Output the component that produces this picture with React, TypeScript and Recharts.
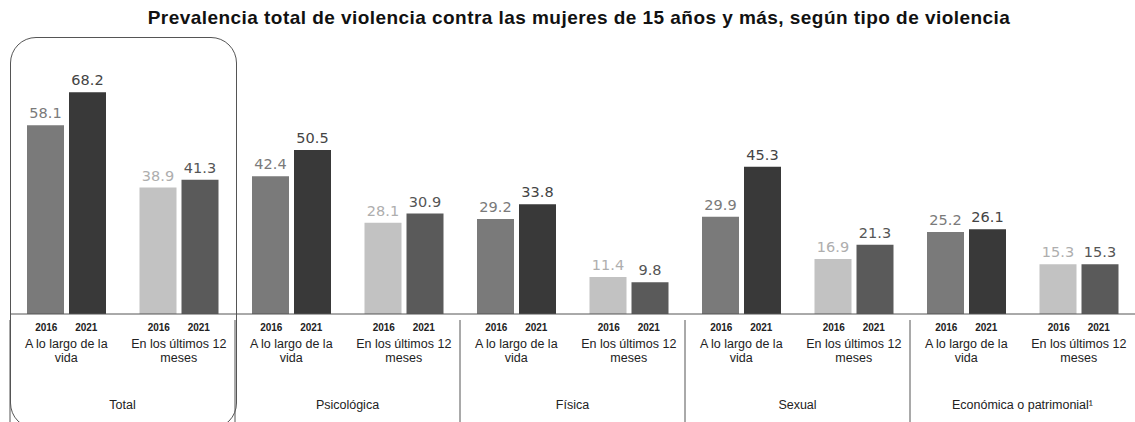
import { BarChart, Bar, XAxis, YAxis, Cell, LabelList } from "recharts";

const tipos = ["Total", "Psicológica", "Física", "Sexual", "Económica o patrimonial¹"];
const periodos = [
  ["A lo largo de la", "vida"],
  ["En los últimos 12", "meses"],
];
const v2016 = [58.1, 38.9, 42.4, 28.1, 29.2, 11.4, 29.9, 16.9, 25.2, 15.3];
const v2021 = [68.2, 41.3, 50.5, 30.9, 33.8, 9.8, 45.3, 21.3, 26.1, 15.3];

const data = v2016.map((v, i) => ({
  id: i,
  tipo: tipos[Math.floor(i / 2)],
  periodo: i % 2,
  y2016: v,
  y2021: v2021[i],
}));

const W = 1135;
const H = 422;
const LEFT = 10;
const BAND = (W - LEFT) / data.length;

const fill2016 = ["#7a7a7a", "#c2c2c2"];
const fill2021 = ["#393939", "#5a5a5a"];
const txt2016 = ["#7a7a7a", "#aeaeae"];
const txt2021 = ["#444", "#555"];

const font = "'Liberation Sans', Arial, sans-serif";
const numFont = "'DejaVu Sans', sans-serif";

const Tick = ({ x, y, index }: any) => {
  const d = data[index];
  const p = periodos[d.periodo];
  return (
    <g fontFamily={font} fill="#222">
      <text x={x - 20} y={y + 9} fontSize={10} fontWeight="bold" textAnchor="middle">2016</text>
      <text x={x + 20} y={y + 9} fontSize={10} fontWeight="bold" textAnchor="middle">2021</text>
      <text x={x} y={y + 26} fontSize={12.5} textAnchor="middle">{p[0]}</text>
      <text x={x} y={y + 40} fontSize={12.5} textAnchor="middle">{p[1]}</text>
      {d.periodo === 0 && (
        <>
          <line x1={x - BAND / 2} x2={x - BAND / 2} y1={y - 2} y2={y + 104} stroke="#555" />
          <text x={x + BAND / 2} y={y + 87} fontSize={12.5} textAnchor="middle">{d.tipo}</text>
        </>
      )}
    </g>
  );
};

const valueLabel = (colors: string[]) => (props: any) => {
  const { x, y, width, value, index } = props;
  return (
    <text
      x={x + width / 2}
      y={y - 7}
      textAnchor="middle"
      fontSize={14.5}
      fontFamily={numFont}
      fill={colors[data[index].periodo]}
    >
      {value}
    </text>
  );
};

export default function App() {
  return (
    <div style={{ position: "absolute", left: 0, top: 0, width: W, height: H, background: "#fff", overflow: "hidden" }}>
      <div
        style={{
          position: "absolute",
          left: 0,
          top: 7,
          width: 1158,
          textAlign: "center",
          fontFamily: font,
          fontWeight: "bold",
          fontSize: 19,
          letterSpacing: 0.45,
          color: "#111",
        }}
      >
        Prevalencia total de violencia contra las mujeres de 15 años y más, según tipo de violencia
      </div>
      <div
        style={{
          position: "absolute",
          left: 10,
          top: 37,
          width: 227,
          height: 392,
          border: "1.5px solid #555",
          borderRadius: 26,
          boxSizing: "border-box",
        }}
      />
      <div style={{ position: "absolute", left: 0, top: 0 }}>
        <BarChart
          width={W}
          height={H}
          data={data}
          margin={{ top: 54, right: 0, bottom: 0, left: LEFT }}
          barCategoryGap={17}
          barGap={5}
        >
          <XAxis
            dataKey="id"
            interval={0}
            height={108}
            tickLine={false}
            axisLine={{ stroke: "#555" }}
            tick={<Tick />}
          />
          <YAxis hide domain={[0, 80]} width={0} />
          <Bar dataKey="y2016" isAnimationActive={false}>
            {data.map((d) => (
              <Cell key={d.id} fill={fill2016[d.periodo]} />
            ))}
            <LabelList dataKey="y2016" content={valueLabel(txt2016)} />
          </Bar>
          <Bar dataKey="y2021" isAnimationActive={false}>
            {data.map((d) => (
              <Cell key={d.id} fill={fill2021[d.periodo]} />
            ))}
            <LabelList dataKey="y2021" content={valueLabel(txt2021)} />
          </Bar>
        </BarChart>
      </div>
    </div>
  );
}
